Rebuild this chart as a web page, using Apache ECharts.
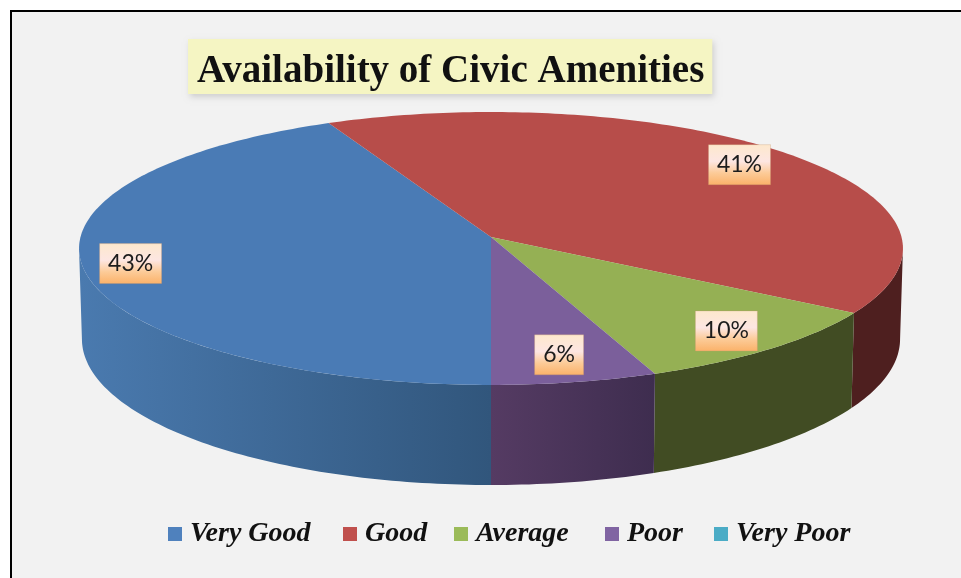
<!DOCTYPE html>
<html><head><meta charset="utf-8">
<style>html,body{margin:0;padding:0;background:#fff}#c{width:961px;height:578px}</style>
<script src="https://cdn.jsdelivr.net/npm/echarts@6/dist/echarts.min.js"></script>
</head><body><div id="c"></div>
<script>
const categories = ['Very Good', 'Good', 'Average', 'Poor', 'Very Poor'];
const percentages = [43, 41, 10, 6, 0];
const topColors = ['#4a7bb5', '#b74d4a', '#95b054', '#7b5f9b', '#4bacc6'];
const legendColors = ['#4f81bd', '#c0504d', '#9bbb59', '#8064a2', '#4bacc6'];
const wallFrom = ['#4a7aaf', '#4e1f1f', '#414c23', '#553b63', '#2f8aa0'];
const wallTo = ['#31567c', '#4e1f1f', '#414c23', '#3e2d4f', '#2f8aa0'];
const labelRadius = [0.885, 0.845, 0.85, 0.825, 0.85];
const legendLefts = [168, 343, 454, 605, 714];

const cx = 491, cy = 237, A = 135.5, B = 410.5, k = 0.0842;
const total = percentages.reduce((a, b) => a + b, 0);
function project(tDeg, r) {
  const t = tDeg * Math.PI / 180, u = r * Math.sin(t), v = r * Math.cos(t), w = 1 + k * v;
  return [B * u / w, -A * v / w];
}
const topPt = (t, r) => { const p = project(t, r); return [cx + p[0], cy + p[1]]; };
const botPt = t => { const p = project(t, 1); return [cx + 0.993 * p[0], 326.7 + 1.07 * p[1]]; };
function sweep(a, b) {
  const out = [], n = Math.max(2, Math.ceil(b - a));
  for (let i = 0; i <= n; i++) out.push(a + (b - a) * i / n);
  return out;
}
// The wall is visible only between the outline's two widest points (cos t = -k).
const silhouette = Math.acos(-k) * 180 / Math.PI;
const frontRanges = [[180, 360 - silhouette], [360 + silhouette, 540]];

function renderSlice(idx, api) {
  const value = api.value(0);
  if (!value) return { type: 'group', children: [] };
  let before = 0;
  for (let i = 0; i < idx; i++) before += percentages[i];
  const a0 = 180 + before / total * 360, a1 = a0 + value / total * 360;
  const children = [];
  frontRanges.forEach(rg => {
    const s = Math.max(a0, rg[0]), e = Math.min(a1, rg[1]);
    if (e <= s) return;
    const ang = sweep(s, e);
    const pts = ang.map(t => topPt(t, 1)).concat(ang.slice().reverse().map(botPt));
    children.push({
      type: 'polygon', z2: 1, shape: { points: pts },
      style: { fill: new echarts.graphic.LinearGradient(0, 0, 1, 0, [
        { offset: 0, color: wallFrom[idx] }, { offset: 1, color: wallTo[idx] }]) }
    });
  });
  children.push({
    type: 'polygon', z2: 2,
    shape: { points: [[cx, cy]].concat(sweep(a0, a1).map(t => topPt(t, 1))) },
    style: { fill: topColors[idx] }
  });
  const c = topPt((a0 + a1) / 2, labelRadius[idx]);
  const text = value + '%';
  const bw = text.length > 2 ? 62 : 49, bh = 40;
  children.push({
    type: 'rect', z2: 3,
    shape: { x: c[0] - bw / 2, y: c[1] - bh / 2, width: bw, height: bh },
    style: {
      fill: new echarts.graphic.LinearGradient(0, 0, 0, 1, [
        { offset: 0, color: '#fde8cc' }, { offset: 0.42, color: '#fde6e2' },
        { offset: 0.7, color: '#fccb98' }, { offset: 1, color: '#fbb168' }]),
      stroke: 'rgba(200,150,110,0.3)', lineWidth: 1
    }
  });
  children.push({
    type: 'text', z2: 4,
    style: { x: c[0], y: c[1], text, fill: '#1c1c1c', font: '23px Lato', align: 'center', verticalAlign: 'middle' }
  });
  return { type: 'group', children };
}

const chart = echarts.init(document.getElementById('c'), null, { renderer: 'canvas' });
chart.setOption({
  animation: false,
  graphic: [{
    type: 'rect', z: -10, silent: true,
    shape: { x: 11, y: 11, width: 1100, height: 800 },
    style: { fill: '#f2f2f2', stroke: '#000', lineWidth: 2 }
  }],
  title: {
    text: 'Availability of Civic Amenities',
    left: 188, top: 41, padding: [13, 8, 3, 9],
    backgroundColor: '#f5f5c3',
    shadowColor: 'rgba(0,0,0,0.15)', shadowBlur: 6, shadowOffsetX: 2, shadowOffsetY: 3,
    textStyle: { fontFamily: 'Liberation Serif', fontWeight: 'bold', fontSize: 39, color: '#111', lineHeight: 35 }
  },
  legend: categories.map((name, i) => ({
    data: [name], left: legendLefts[i], top: 520, padding: 0, icon: 'rect',
    itemWidth: 14, itemHeight: 14, selectedMode: false,
    textStyle: { fontFamily: 'Liberation Serif', fontStyle: 'italic', fontWeight: 'bold', fontSize: 28, color: '#111', padding: [0, 0, 0, 3] }
  })),
  series: categories.map((name, i) => ({
    type: 'custom', name, coordinateSystem: 'none', silent: true,
    itemStyle: { color: legendColors[i] },
    data: [[percentages[i]]],
    renderItem: (params, api) => renderSlice(i, api)
  }))
});
</script></body></html>
